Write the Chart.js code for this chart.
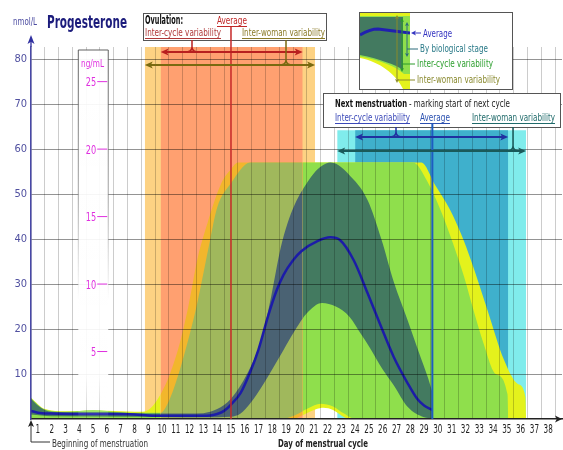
<!doctype html>
<html>
<head>
<meta charset="utf-8">
<title>Progesterone</title>
<script src="https://cdn.jsdelivr.net/npm/chart.js@4.4.1/dist/chart.umd.min.js"></script>
<style>
body { margin: 0; background: #fff; }
canvas { display: block; }
</style>
</head>
<body>
<canvas id="chart" width="563" height="450" style="width:563px;height:450px"></canvas>
<script>
// day labels and y ticks
var dayLabels = [1,2,3,4,5,6,7,8,9,10,11,12,13,14,15,16,17,18,19,20,21,22,23,24,25,26,27,28,29,30,31,32,33,34,35,36,37,38];
var yTicks = [10,20,30,40,50,60,70,80];
var ngTicks = [5,10,15,20,25];      // ng/mL
var ngToNmol = 3.0;
var yMax = 82.7;

// ovulation and next menstruation (days)
var ovuAvg = 15;
var ovuCycle = [9.9, 20.2];
var ovuWoman = [8.75, 21.1];
var menAvg = 29.6;
var menCycle = [24.0, 35.1];
var menWoman = [22.7, 36.4];
var menTop = 64.2;

// average progesterone (nmol/L)
var avgDays = [0.5,1,2,4,6,8,9,10,12,13,13.5,14,14.5,15,15.7,16.4,17,17.7,18.3,18.8,19.5,20.1,21.3,22.2,22.9,23.9,24.9,25.9,26.8,27.8,28.5,29,29.6];
var avgVals = [1.8,1.4,1.2,1.1,1.1,1.0,0.8,0.7,0.7,0.7,0.8,1.1,1.8,3.2,5.8,10.5,15.5,23,28.5,32,35.3,37.3,39.6,40.4,39.8,35.3,28,20.4,13.8,8,4.5,3,2];

// by biological stage
var stageDays = [0.5,1,1.5,2,4,6,8,9.9,12,13,14,15,16.2,17.2,17.9,18.6,19.1,19.6,20.2,21.0,21.6,22.2,22.8,23.5,24.9,25.9,26.8,27.8,28.6,29.3,29.6];
var stageHigh = [4.5,3,2,1.6,1.5,1.5,1.3,1.2,1.2,1.3,2.2,4.5,10.2,17.6,27,38,43.5,47.5,51,54.6,56.3,57,56.4,54.5,48.7,40,30.5,22,15,9,6];
var stageLowDays = [0.5,2,8,13,15,15.7,16.4,17.4,18.1,18.8,19.6,20.5,21.6,22.6,23.6,24.4,25.1,26.0,26.8,27.8,29.0,29.6];
var stageLow = [1.0,0.6,0.5,0.4,0.5,1.2,3.5,8,11.6,15.3,19.5,23.5,25.8,25,22.7,19,15.7,11,7.5,2.7,0.4,0.2];

// inter-cycle variability
var cycleDays = [0.5,1.5,3,4,5,6,7,8.5,9.9,10.5,11.2,11.9,12.5,13.0,13.5,14.0,15.0,16.4,20.2,28.2,29.2,30.2,31.1,31.9,32.6,33.3,34.2,35.05,35.1];
var cycleHigh = [4.6,2.1,1.6,1.8,2.0,1.8,1.5,1.4,1.4,4,10,17.6,25,32.4,40,47,52.4,57,57,57,53,46.4,39,31.6,24,16.9,10,5.5,0];
var cycleLowDays = [0.5,18.6,19.6,20.6,21.5,22.4,23.2,24.0,35.1];
var cycleLow = [0,0,0.8,2.4,3.4,2.8,1.2,0,0];

// inter-woman variability
var womanDays = [0.5,1.5,3,5,7,8,8.6,9.2,9.9,10.6,11.3,11.9,12.6,13.3,14.3,15.0,15.5,20.2,28.8,29.8,30.9,31.7,32.4,33.6,34.8,35.8,36.35,36.4];
var womanHigh = [4.7,2.2,1.7,1.9,1.7,1.6,1.6,2.5,5.5,10.2,17,24.9,36,43.6,52.4,55.5,57,57,57,52,46.4,41,35.3,24.2,13.1,7.8,4.9,0];
var womanLowDays = [0.5,19.4,20.3,21.2,21.7,22.4,23.0,23.6,36.4];
var womanLow = [0,0,1.0,2.2,2.5,2.0,0.8,0,0];

var NARROW = "'Liberation Sans Narrow', 'Arial Narrow', 'DejaVu Sans Condensed', sans-serif";
var NONE = 'rgba(0,0,0,0)';

var col = {
    yellow: '#e4f21c', amber: '#f2b62c',
    green: '#8fdf4c', olive: '#a0b85c',
    dark: '#437a60', slate: '#4a6273',
    orange: '#ffa070', orangeLight: '#fdd283',
    cyan: '#3fb0cc', cyanLight: '#80ecec'
};

function pts(days, vals) {
    return days.map(function (d, i) { return {x: d, y: vals[i]}; });
}
function inOvulation(c) {
    var m = (c.p0.parsed.x + c.p1.parsed.x) / 2;
    return m > ovuCycle[0] && m < ovuCycle[1];
}
function area(days, vals, inside, outside) {
    return {
        data: pts(days, vals), fill: '+1', backgroundColor: outside,
        borderColor: NONE, borderWidth: 0, cubicInterpolationMode: 'monotone',
        segment: { backgroundColor: function (c) { return inOvulation(c) ? inside : outside; } }
    };
}
function lower(days, vals) {
    return { data: pts(days, vals), fill: false, borderColor: NONE, borderWidth: 0, cubicInterpolationMode: 'monotone' };
}
function band(range, top, color) {
    return { data: [{x: range[0], y: top}, {x: range[1], y: top}], fill: 'origin',
        backgroundColor: color, borderColor: NONE, borderWidth: 0 };
}

// index 0 is drawn on top
var datasets = [
    { data: pts(avgDays, avgVals), borderColor: '#1c1ca8', borderWidth: 2.5, fill: false, cubicInterpolationMode: 'monotone' },
    area(stageDays, stageHigh, col.slate, col.dark),
    lower(stageLowDays, stageLow),
    area(cycleDays, cycleHigh, col.olive, col.green),
    lower(cycleLowDays, cycleLow),
    area(womanDays, womanHigh, col.amber, col.yellow),
    lower(womanLowDays, womanLow),
    band(ovuCycle, yMax, col.orange),
    band(ovuWoman, yMax, col.orangeLight),
    band(menCycle, menTop, col.cyan),
    band(menWoman, menTop, col.cyanLight)
];

var xTickVals = [];
dayLabels.forEach(function (d) { xTickVals.push(d - 0.5, d); });
xTickVals.push(dayLabels[dayLabels.length - 1] + 0.5);

// ---- drawing helpers ----
function fitText(ctx, str, x, y, w, font, color, underline) {
    ctx.save();
    ctx.font = font;
    ctx.fillStyle = color;
    ctx.textBaseline = 'alphabetic';
    var nat = ctx.measureText(str).width;
    ctx.translate(x, y);
    ctx.scale(w / nat, 1);
    ctx.fillText(str, 0, 0);
    ctx.restore();
    if (underline) {
        ctx.save();
        ctx.strokeStyle = color; ctx.lineWidth = 1;
        ctx.beginPath(); ctx.moveTo(x, y + 2.5); ctx.lineTo(x + w, y + 2.5); ctx.stroke();
        ctx.restore();
    }
}
function head(ctx, x, y, ang, color, len, half) {
    len = len || 8; half = half || 3.5;
    ctx.save();
    ctx.translate(x, y); ctx.rotate(ang);
    ctx.beginPath();
    ctx.moveTo(0, 0); ctx.lineTo(-len, -half); ctx.lineTo(-len * 0.75, 0); ctx.lineTo(-len, half);
    ctx.closePath();
    ctx.fillStyle = color; ctx.fill();
    ctx.restore();
}
function line(ctx, x1, y1, x2, y2, color, w) {
    ctx.save();
    ctx.strokeStyle = color; ctx.lineWidth = w || 1;
    ctx.beginPath(); ctx.moveTo(x1, y1); ctx.lineTo(x2, y2); ctx.stroke();
    ctx.restore();
}
function hArrow(ctx, x1, x2, y, color) {
    line(ctx, x1 + 4, y, x2 - 4, y, color, 2);
    head(ctx, x2, y, 0, color);
    head(ctx, x1, y, Math.PI, color);
}
function vArrow(ctx, x, y1, y2, color) {
    line(ctx, x, y1 + 2, x, y2 - 2, color, 1);
    head(ctx, x, y1, -Math.PI / 2, color, 4, 2);
    head(ctx, x, y2, Math.PI / 2, color, 4, 2);
}
function brace(ctx, x, y, yTop, color) {
    ctx.save();
    ctx.strokeStyle = color; ctx.lineWidth = 1.5;
    ctx.beginPath();
    ctx.moveTo(x - 7, y); ctx.quadraticCurveTo(x, y, x, y - 5);
    ctx.moveTo(x + 7, y); ctx.quadraticCurveTo(x, y, x, y - 5);
    ctx.lineTo(x, yTop);
    ctx.stroke();
    ctx.restore();
}
function box(ctx, x, y, w, h) {
    ctx.save();
    ctx.fillStyle = '#fff'; ctx.fillRect(x, y, w, h);
    ctx.strokeStyle = '#555'; ctx.lineWidth = 1;
    ctx.strokeRect(x + 0.5, y + 0.5, w, h);
    ctx.restore();
}

var annotations = {
    id: 'annotations',
    afterDraw: function (chart) {
        var ctx = chart.ctx;
        var X = function (v) { return chart.scales.x.getPixelForValue(v); };
        var Y = function (v) { return chart.scales.y.getPixelForValue(v); };
        var area = chart.chartArea;
        var f = function (size, bold) { return (bold ? 'bold ' : '') + size + 'px ' + NARROW; };

        // day labels (condensed)
        dayLabels.forEach(function (d) {
            var s = String(d), w = s.length * 4.6;
            fitText(ctx, s, X(d) - w / 2, 433, w, f(13), '#222');
        });

        // ng/mL inner scale
        var bx1 = X(3.93), bx2 = X(6.1), bTop = 50;
        var g = ctx.createLinearGradient(0, bTop, 0, area.bottom);
        g.addColorStop(0, 'rgba(255,255,255,0.93)');
        g.addColorStop(0.88, 'rgba(255,255,255,0.9)');
        g.addColorStop(1, 'rgba(255,255,255,0)');
        ctx.fillStyle = g;
        ctx.fillRect(bx1, bTop, bx2 - bx1, area.bottom - bTop - 1);
        var gs = ctx.createLinearGradient(0, bTop, 0, 300);
        gs.addColorStop(0, 'rgba(80,80,80,0.9)');
        gs.addColorStop(0.6, 'rgba(80,80,80,0.5)');
        gs.addColorStop(1, 'rgba(80,80,80,0)');
        ctx.save();
        ctx.strokeStyle = gs; ctx.lineWidth = 1;
        ctx.beginPath();
        ctx.moveTo(bx1, 300); ctx.lineTo(bx1, bTop); ctx.lineTo(bx2, bTop); ctx.lineTo(bx2, 300);
        ctx.stroke();
        ctx.restore();
        fitText(ctx, 'ng/mL', 81, 67, 23, f(11), '#e030e0');
        ngTicks.forEach(function (v) {
            var yy = Y(v * ngToNmol), s = String(v), w = s.length * 5.2;
            fitText(ctx, s, bx2 - 12 - w, yy + 4.5, w, f(12), '#e030e0');
            line(ctx, bx2 - 11, yy, bx2 - 1, yy, '#e030e0', 1);
        });

        // boxes
        box(ctx, 143, 13, 183, 27);
        box(ctx, 323, 93, 237, 34);
        box(ctx, 359, 12, 153, 77);

        // legend swatch
        ctx.save();
        ctx.beginPath(); ctx.rect(360, 13, 50, 76); ctx.clip();
        ctx.fillStyle = col.yellow;
        ctx.beginPath(); ctx.moveTo(360, 13); ctx.lineTo(410, 13); ctx.lineTo(410, 89); ctx.lineTo(403, 89);
        ctx.bezierCurveTo(396, 74, 380, 62, 360, 58); ctx.closePath(); ctx.fill();
        ctx.fillStyle = col.green;
        ctx.beginPath(); ctx.moveTo(360, 16); ctx.lineTo(410, 16); ctx.lineTo(410, 74); ctx.lineTo(404, 74);
        ctx.bezierCurveTo(397, 67, 380, 60, 360, 56.5); ctx.closePath(); ctx.fill();
        ctx.fillStyle = col.dark;
        ctx.beginPath(); ctx.moveTo(360, 17); ctx.lineTo(403, 17); ctx.lineTo(403, 70);
        ctx.bezierCurveTo(396, 65, 380, 59, 360, 55); ctx.closePath(); ctx.fill();
        ctx.strokeStyle = '#2020b0'; ctx.lineWidth = 3;
        ctx.beginPath(); ctx.moveTo(360, 35); ctx.quadraticCurveTo(370, 29, 378, 29); ctx.lineTo(410, 33); ctx.stroke();
        ctx.restore();
        vArrow(ctx, 397, 15, 83, '#8a8a2a');
        vArrow(ctx, 402, 18, 72, '#2a9a2a');
        vArrow(ctx, 407, 22, 57, '#2a6a7a');
        line(ctx, 407, 49, 418, 49, '#2a6a7a', 1);
        line(ctx, 402, 64, 415, 64, '#2a9a2a', 1);
        line(ctx, 397, 80, 415, 80, '#8a8a2a', 1);
        line(ctx, 414, 33, 421, 33, '#3232c0', 1);
        head(ctx, 411, 33, Math.PI, '#3232c0', 5, 2.5);

        // axis arrows
        var ax = area.left;
        line(ctx, ax, area.top, ax, 40, '#4848a8', 1.5);
        head(ctx, ax, 35, -Math.PI / 2, '#3030a0', 9, 3.5);
        head(ctx, area.right, area.bottom, 0, '#222', 7, 3.5);
        line(ctx, ax, 442, ax, 425, '#333', 1);
        head(ctx, ax, 420, -Math.PI / 2, '#222', 7, 3);
        line(ctx, ax, 442, 50, 442, '#333', 1);

        // average lines
        line(ctx, X(ovuAvg), 26, X(ovuAvg), area.bottom, '#c62828', 1.5);
        line(ctx, X(menAvg), 124, X(menAvg), area.bottom, '#1e5cc0', 2);

        // variability arrows
        hArrow(ctx, X(ovuCycle[0]), X(ovuCycle[1]), 52, '#b82020');
        brace(ctx, 192, 52, 40, '#b82020');
        hArrow(ctx, X(ovuWoman[0]), X(ovuWoman[1]), 65, '#7a6a10');
        brace(ctx, 286, 65, 40, '#7a6a10');
        hArrow(ctx, X(menCycle[0]), X(menCycle[1]), 137, '#2030a0');
        brace(ctx, 396, 137, 127, '#2030a0');
        hArrow(ctx, X(menWoman[0]), X(menWoman[1]), 151, '#1a5a5a');
        brace(ctx, 513, 151, 127, '#1a5a5a');

        // texts
        fitText(ctx, 'nmol/L', 13, 25, 24, f(10), '#4a4aa0');
        fitText(ctx, 'Progesterone', 47, 28, 80, f(18, true), '#1c1c7c');
        fitText(ctx, 'Ovulation:', 145, 24, 38, f(12, true), '#111');
        fitText(ctx, 'Average', 217, 24, 30, f(11), '#c02828', true);
        fitText(ctx, 'Inter-cycle variability', 145, 36, 76, f(11), '#b03838', true);
        fitText(ctx, 'Inter-woman variability', 242, 36, 83, f(11), '#8a7a28', true);
        fitText(ctx, 'Next menstruation', 335, 107, 72, f(11, true), '#111');
        fitText(ctx, '- marking start of next cycle', 409, 107, 101, f(11), '#222');
        fitText(ctx, 'Inter-cycle variability', 335, 121, 75, f(11), '#3a48b8', true);
        fitText(ctx, 'Average', 420, 121, 30, f(11), '#2a50b0', true);
        fitText(ctx, 'Inter-woman variability', 472, 121, 83, f(11), '#1f6a6a', true);
        fitText(ctx, 'Average', 423, 37, 29, f(11), '#3232c0');
        fitText(ctx, 'By biological stage', 420, 52, 68, f(11), '#2a7a88');
        fitText(ctx, 'Inter-cycle variability', 417, 67, 76, f(11), '#2fa030');
        fitText(ctx, 'Inter-woman variability', 417, 83, 83, f(11), '#8a8a30');
        fitText(ctx, 'Beginning of menstruation', 52, 447, 96, f(11), '#333');
        fitText(ctx, 'Day of menstrual cycle', 278, 447, 90, f(11, true), '#222');
    }
};

var chart = new Chart(document.getElementById('chart'), {
    type: 'line',
    data: { datasets: datasets },
    options: {
        responsive: false,
        animation: false,
        devicePixelRatio: 1,
        layout: { padding: { top: 47, right: 1, left: 0, bottom: 0 } },
        plugins: { legend: { display: false }, tooltip: { enabled: false } },
        elements: { point: { radius: 0 } },
        scales: {
            x: {
                type: 'linear', min: 0.5, max: 39,
                afterBuildTicks: function (s) { s.ticks = xTickVals.map(function (v) { return {value: v}; }); },
                afterFit: function (s) { s.height = 31; },
                grid: {
                    z: 1, drawTicks: false, lineWidth: 1,
                    color: function (c) { return Number.isInteger(c.tick.value) ? NONE : 'rgba(0,0,0,0.2)'; }
                },
                border: { z: 2, color: '#222', width: 1.5 },
                ticks: { display: false }
            },
            y: {
                type: 'linear', min: 0, max: yMax,
                afterBuildTicks: function (s) { s.ticks = yTicks.map(function (v) { return {value: v}; }); },
                afterFit: function (s) { s.width = 31; },
                grid: { z: 1, drawTicks: false, color: 'rgba(0,0,0,0.42)' },
                border: { z: 2, color: '#4848a8', width: 1.5 },
                ticks: { padding: 4, color: '#5050a0', font: { family: NARROW, size: 11 } }
            }
        }
    },
    plugins: [annotations]
});
</script>
</body>
</html>
